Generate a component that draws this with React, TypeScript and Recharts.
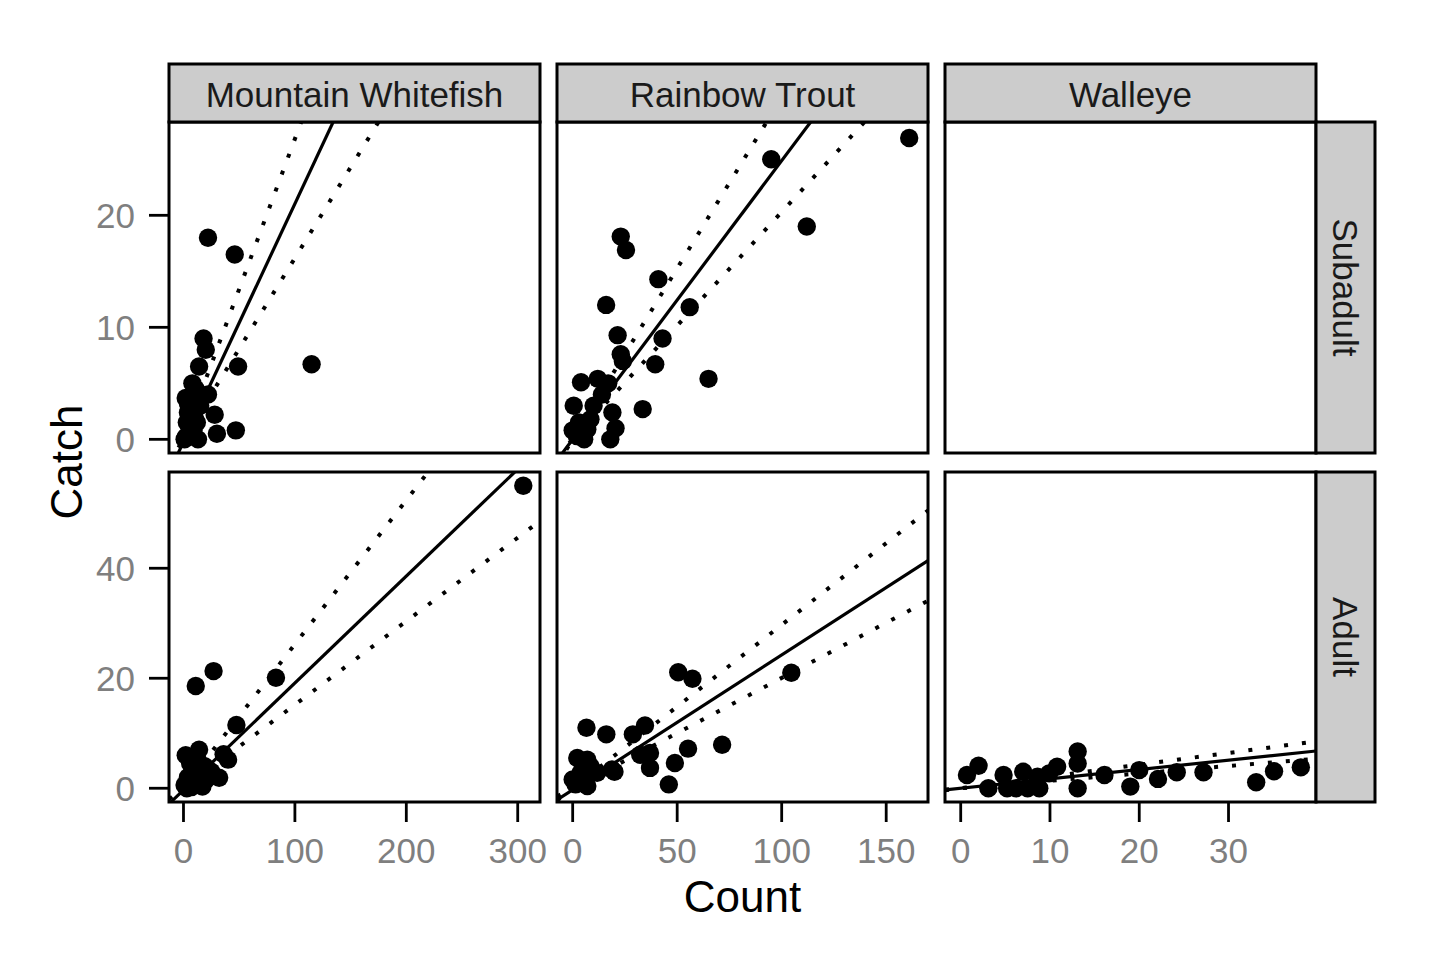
import { ScatterChart, Scatter, XAxis, YAxis } from "recharts";

const FONT = '"Liberation Sans", Arial, Helvetica, sans-serif';

const species = ["Mountain Whitefish", "Rainbow Trout", "Walleye"];
const stages = ["Subadult", "Adult"];

const whitefishTicks = [0, 100, 200, 300];
const troutTicks = [0, 50, 100, 150];
const walleyeTicks = [0, 10, 20, 30];
const subadultTicks = [0, 10, 20];
const adultTicks = [0, 20, 40];

// Mountain Whitefish, subadult
const wfSubCount = [22, 46, 115, 49, 18, 20, 14, 8, 22, 2, 28, 4, 30, 47, 1, 13, 5, 8, 3, 10, 6, 2, 15, 11, 4, 9, 12];
const wfSubCatch = [18, 16.5, 6.7, 6.5, 9, 8, 6.5, 5, 4, 3.7, 2.2, 2.4, 0.5, 0.8, 0, 0, 1.2, 3, 1.5, 2, 0.3, 0.2, 3, 4.5, 3.2, 0.8, 1.5];
const wfSubFitCount = [-13, 320];
const wfSubFit = [-2.99, 67.8];
const wfSubFitLo = [-2.11, 51.8];
const wfSubFitHi = [-3.48, 85.8];

// Rainbow Trout, subadult
const rbSubCount = [161, 95, 112, 23, 25.5, 41, 16, 56, 43, 21.5, 23, 39.5, 65, 24, 4, 12, 17, 33.5, 0.5, 19, 20.5, 18, 5.5, 3, 8.5, 10, 7, 0, 2, 14];
const rbSubCatch = [26.9, 25, 19, 18.1, 16.9, 14.3, 12, 11.8, 9, 9.3, 7.6, 6.7, 5.4, 7, 5.1, 5.4, 5, 2.7, 3, 2.4, 1, 0, 0, 1.5, 1.8, 3, 0.9, 0.8, 0.3, 4];
const rbSubFitCount = [-7.5, 170];
const rbSubFit = [-1.87, 42.3];
const rbSubFitLo = [-1.52, 34.5];
const rbSubFitHi = [-2.29, 51.9];

// Mountain Whitefish, adult
const wfAdCount = [305, 27, 11, 83, 47.5, 40, 32, 36, 2, 14, 8, 23, 1, 17, 4, 10, 6, 13, 19, 3, 7, 12, 20, 25];
const wfAdCatch = [55, 21.3, 18.6, 20.1, 11.5, 5.2, 1.9, 6.2, 6, 7, 3.6, 2.4, 0.6, 0.3, 2, 1, 4.5, 5, 4, 0, 0.2, 2.5, 1.5, 3];
const wfAdFitCount = [-13, 320];
const wfAdFit = [-2.84, 61.9];
const wfAdFitLo = [-1.98, 48.6];
const wfAdFitHi = [-3.41, 83.8];

// Rainbow Trout, adult
const rbAdCount = [50.5, 57.3, 104.6, 6.6, 16.1, 34.6, 28.8, 71.5, 55.2, 48.9, 46, 37, 32.3, 37, 18.8, 2.2, 7, 1.4, 7, 0, 11.7, 8.5, 3.8, 20, 5];
const rbAdCatch = [21.1, 19.9, 21, 11, 9.8, 11.4, 9.8, 7.9, 7.2, 4.6, 0.7, 6.4, 6.1, 3.7, 3.4, 5.5, 5.2, 0.7, 0.4, 1.6, 2.8, 4, 2.8, 3, 2.3];
const rbAdFitCount = [-7.5, 170];
const rbAdFit = [-2.12, 41.4];
const rbAdFitLo = [-1.5, 34.1];
const rbAdFitHi = [-2.23, 50.5];

// Walleye, adult
const wlAdCount = [0.7, 2, 3.1, 4.8, 5.2, 7, 6.2, 7.5, 8.8, 8.6, 9.9, 10.8, 13.1, 13.1, 13.1, 16.1, 19, 20, 22.1, 24.2, 27.2, 33.1, 35.1, 38.1];
const wlAdCatch = [2.4, 4.1, 0, 2.4, 0, 3, 0, 0, 0, 2.1, 2.7, 3.9, 6.7, 4.5, 0, 2.4, 0.3, 3.3, 1.7, 2.9, 2.9, 1.1, 3.1, 3.8];
const wlAdFitCount = [-1.76, 39.8];
const wlAdFit = [-0.3, 6.77];
const wlAdFitLo = [-0.24, 5.37];
const wlAdFitHi = [-0.38, 8.52];

// layout
const COL_LEFT = [169, 557, 945];
const ROW_TOP = [122, 472];
const PW = 371;
const PH = [331, 330];
const STRIP_TOP = 64;
const STRIP_W = 59;
const AXIS_W = 140;
const AXIS_H = 90;
const PAD_R = 40;

const X_DOMAINS: [number, number][] = [[-13, 320], [-7.5, 170], [-1.76, 39.8]];
const X_TICKS = [whitefishTicks, troutTicks, walleyeTicks];
const Y_DOMAINS: [number, number][] = [[-1.22, 28.33], [-2.5, 57.5]];
const Y_TICKS = [subadultTicks, adultTicks];

type Pt = { count: number; catch: number };
const pair = (xs: number[], ys: number[]): Pt[] => xs.map((x, i) => ({ count: x, catch: ys[i] }));

const Dot = (p: any) => <circle cx={p.cx} cy={p.cy} r={9.2} fill="#000" stroke="none" />;
const NoDot = () => <g />;

const SOLID = { stroke: "#000", strokeWidth: 3.2, fill: "none" };
const DOTTED = { stroke: "#000", strokeWidth: 4, strokeDasharray: "4 14", fill: "none" };

interface PanelProps {
  col: number;
  row: number;
  count: number[];
  catches: number[];
  fitX: number[];
  mid: number[];
  lo: number[];
  hi: number[];
}

const Panel = ({ col, row, count, catches, fitX, mid, lo, hi }: PanelProps) => {
  const showY = col === 0;
  const showX = row === 1;
  const h = PH[row];
  const tickStyle = { fill: "#7F7F7F", fontSize: 35, fontFamily: FONT };
  return (
    <div style={{ position: "absolute", left: COL_LEFT[col] - AXIS_W, top: ROW_TOP[row] }}>
      <ScatterChart
        width={AXIS_W + PW + PAD_R}
        height={h + AXIS_H}
        margin={{ top: 0, right: PAD_R, bottom: showX ? 0 : AXIS_H, left: showY ? 0 : AXIS_W }}
      >
        <XAxis
          type="number"
          dataKey="count"
          domain={X_DOMAINS[col]}
          ticks={X_TICKS[col]}
          interval={0}
          allowDataOverflow
          hide={!showX}
          height={AXIS_H}
          axisLine={false}
          tickSize={20}
          tickMargin={16}
          tickLine={{ stroke: "#000", strokeWidth: 2.8 }}
          tick={tickStyle}
        />
        <YAxis
          type="number"
          dataKey="catch"
          domain={Y_DOMAINS[row]}
          ticks={Y_TICKS[row]}
          interval={0}
          allowDataOverflow
          hide={!showY}
          width={AXIS_W}
          axisLine={false}
          tickSize={20}
          tickMargin={14}
          tickLine={{ stroke: "#000", strokeWidth: 2.8 }}
          tick={tickStyle}
        />
        <Scatter data={pair(count, catches)} shape={Dot} fill="#000" isAnimationActive={false} />
        <Scatter data={pair(fitX, mid)} shape={NoDot} {...SOLID} line={SOLID} isAnimationActive={false} />
        <Scatter data={pair(fitX, lo)} shape={NoDot} {...DOTTED} line={DOTTED} isAnimationActive={false} />
        <Scatter data={pair(fitX, hi)} shape={NoDot} {...DOTTED} line={DOTTED} isAnimationActive={false} />
      </ScatterChart>
    </div>
  );
};

const App = () => {
  const right = COL_LEFT[2] + PW;
  return (
    <div style={{ position: "absolute", left: 0, top: 0, width: 1440, height: 960, background: "#fff", fontFamily: FONT }}>
      <Panel col={0} row={0} count={wfSubCount} catches={wfSubCatch} fitX={wfSubFitCount} mid={wfSubFit} lo={wfSubFitLo} hi={wfSubFitHi} />
      <Panel col={1} row={0} count={rbSubCount} catches={rbSubCatch} fitX={rbSubFitCount} mid={rbSubFit} lo={rbSubFitLo} hi={rbSubFitHi} />
      <Panel col={0} row={1} count={wfAdCount} catches={wfAdCatch} fitX={wfAdFitCount} mid={wfAdFit} lo={wfAdFitLo} hi={wfAdFitHi} />
      <Panel col={1} row={1} count={rbAdCount} catches={rbAdCatch} fitX={rbAdFitCount} mid={rbAdFit} lo={rbAdFitLo} hi={rbAdFitHi} />
      <Panel col={2} row={1} count={wlAdCount} catches={wlAdCatch} fitX={wlAdFitCount} mid={wlAdFit} lo={wlAdFitLo} hi={wlAdFitHi} />

      <svg width={1440} height={960} style={{ position: "absolute", left: 0, top: 0, pointerEvents: "none" }}>
        {/* panel borders */}
        {ROW_TOP.map((top, r) =>
          COL_LEFT.map((left, c) => (
            <rect key={`p${r}${c}`} x={left} y={top} width={PW} height={PH[r]} fill="none" stroke="#000" strokeWidth={3} />
          ))
        )}
        {/* top strips */}
        {species.map((name, c) => (
          <g key={name}>
            <rect x={COL_LEFT[c]} y={STRIP_TOP} width={PW} height={ROW_TOP[0] - STRIP_TOP} fill="#CCCCCC" stroke="#000" strokeWidth={3} />
            <text x={COL_LEFT[c] + PW / 2} y={106.5} textAnchor="middle" fontSize={35} fill="#1A1A1A" fontFamily={FONT}>
              {name}
            </text>
          </g>
        ))}
        {/* right strips */}
        {stages.map((name, r) => {
          const cx = right + STRIP_W / 2;
          const cy = ROW_TOP[r] + PH[r] / 2;
          return (
            <g key={name}>
              <rect x={right} y={ROW_TOP[r]} width={STRIP_W} height={PH[r]} fill="#CCCCCC" stroke="#000" strokeWidth={3} />
              <text x={cx} y={cy} dy="0.35em" transform={`rotate(90 ${cx} ${cy})`} textAnchor="middle" fontSize={35} fill="#1A1A1A" fontFamily={FONT}>
                {name}
              </text>
            </g>
          );
        })}
        {/* axis titles */}
        <text x={COL_LEFT[0] + (right - COL_LEFT[0]) / 2} y={911.5} textAnchor="middle" fontSize={44} fill="#000" fontFamily={FONT}>
          Count
        </text>
        <text x={67} y={462} dy="0.35em" transform="rotate(-90 67 462)" textAnchor="middle" fontSize={44} fill="#000" fontFamily={FONT}>
          Catch
        </text>
      </svg>
    </div>
  );
};

export default App;
